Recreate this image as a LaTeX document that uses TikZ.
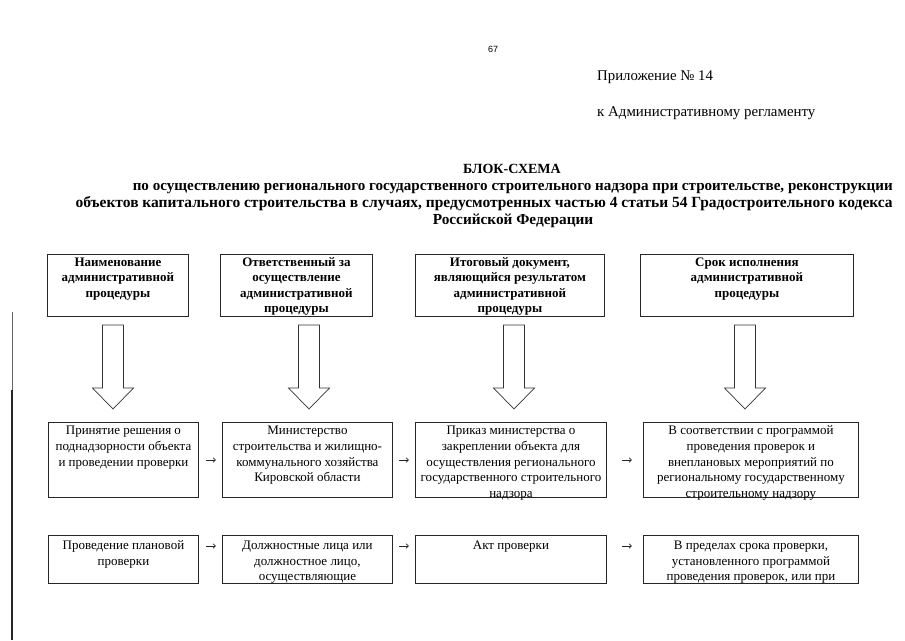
\documentclass[tikz,border=0pt]{standalone}
\usepackage{fontspec}
\setmainfont{Liberation Serif}
\newfontfamily\pgnumfont{Liberation Sans}
\usetikzlibrary{arrows.meta,calc}
\newcommand{\headfont}{\fontsize{13}{15.5}\selectfont\bfseries}
\newcommand{\cellfont}{\fontsize{13}{15.8}\selectfont}
\newcommand{\cellfontb}{\fontsize{13}{15.3}\selectfont}
\newcommand{\cell}[3]{\parbox[c][#2pt][t]{#1pt}{\centering #3}}
\tikzset{
  x=1pt, y=-1pt,
  boxnode/.style={draw=black!85, line width=0.9pt, inner sep=0pt, anchor=north west},
  blk/.style={draw=black!80, line width=0.7pt, fill=white, line join=miter},
  smallarrow/.style={draw=black!85, line width=0.7pt, -{Straight Barb[length=2.5pt,width=4.5pt]}},
  plain/.style={inner sep=0pt, anchor=base west},
  titlefont/.style={font=\fontsize{15.3}{17}\selectfont\bfseries, inner sep=0pt}
}
\begin{document}
\begin{tikzpicture}
\useasboundingbox (0,0) rectangle (905,640);
% page number and header
\node[inner sep=0pt, font=\pgnumfont\fontsize{9}{10}\selectfont] (pg) at (493,49) {67};
\node[plain, font=\fontsize{14.8}{17}\selectfont] (app) at (597,80) {Приложение № 14};
\node[plain, font=\fontsize{14.9}{17}\selectfont] (reg) at (597,116) {к Административному регламенту};
% title
\node[titlefont, font=\fontsize{14}{17}\selectfont\bfseries, anchor=base] (t0) at (512,173) {БЛОК-СХЕМА};
\node[titlefont, font=\fontsize{15.1}{17}\selectfont\bfseries, anchor=base east] (t1) at (893,190) {по осуществлению регионального государственного строительного надзора при строительстве, реконструкции};
\node[titlefont, font=\fontsize{15.5}{17}\selectfont\bfseries, anchor=base east] (t2) at (893,207) {объектов капитального строительства в случаях, предусмотренных частью 4 статьи 54 Градостроительного кодекса};
\node[titlefont, anchor=base] (t3) at (513,224) {Российской Федерации};
% row 1
\node[boxnode] (h1) at (47,254) {\cell{141}{62}{\headfont\rule{0pt}{12pt}Наименование\\административной\\процедуры}};
\node[boxnode] (h2) at (220,254) {\cell{152}{62}{\headfont\rule{0pt}{12pt}Ответственный за\\осуществление\\административной\\процедуры}};
\node[boxnode] (h3) at (415,254) {\cell{189}{62}{\headfont\rule{0pt}{12pt}Итоговый документ,\\являющийся результатом\\административной\\процедуры}};
\node[boxnode] (h4) at (640,254) {\cell{213}{62}{\headfont\rule{0pt}{12pt}Срок исполнения\\административной\\процедуры}};
% block arrows
\foreach \cx in {113,309,514,745}{
  \draw[blk] ({\cx-10.5},325) -- ({\cx+10.5},325) -- ({\cx+10.5},388) -- ({\cx+20.5},388)
     -- (\cx,409) -- ({\cx-20.5},388) -- ({\cx-10.5},388) -- cycle;
}
% row 2
\node[boxnode] (a1) at (48,422) {\cell{150}{75}{\cellfont\rule{0pt}{12pt}Принятие решения о\\поднадзорности объекта\\и проведении проверки}};
\node[boxnode] (a2) at (222,422) {\cell{170}{75}{\cellfont\rule{0pt}{12pt}Министерство\\строительства и жилищно-\\коммунального хозяйства\\Кировской области}};
\node[boxnode] (a3) at (415,422) {\cell{191}{75}{\cellfont\rule{0pt}{12pt}Приказ министерства  о\\закреплении объекта для\\осуществления регионального\\государственного строительного\\надзора}};
\node[boxnode] (a4) at (643,422) {\cell{215}{75}{\cellfont\rule{0pt}{12pt}В соответствии с программой\\проведения проверок и\\внеплановых мероприятий по\\региональному государственному\\строительному надзору}};
\draw[smallarrow, shorten <=7pt, shorten >=6pt] ($(a1.north east)+(0,38)$) -- ($(a2.north west)+(0,38)$);
\draw[smallarrow, shorten <=6pt, shorten >=6pt] ($(a2.north east)+(0,38)$) -- ($(a3.north west)+(0,38)$);
\draw[smallarrow, shorten <=15pt, shorten >=11pt] ($(a3.north east)+(0,38)$) -- ($(a4.north west)+(0,38)$);
% row 3
\node[boxnode] (b1) at (48,535) {\cell{150}{48}{\cellfontb\rule{0pt}{14.5pt}Проведение плановой\\проверки}};
\node[boxnode] (b2) at (222,535) {\cell{170}{48}{\cellfontb\rule{0pt}{14.5pt}Должностные лица или\\должностное лицо,\\осуществляющие}};
\node[boxnode] (b3) at (415,535) {\cell{191}{48}{\cellfontb\rule{0pt}{14.5pt}Акт проверки}};
\node[boxnode] (b4) at (643,535) {\cell{215}{48}{\cellfontb\rule{0pt}{14.5pt}В пределах срока проверки,\\установленного программой\\проведения проверок, или при}};
\draw[smallarrow, shorten <=7pt, shorten >=6pt] ($(b1.north east)+(0,11)$) -- ($(b2.north west)+(0,11)$);
\draw[smallarrow, shorten <=6pt, shorten >=6pt] ($(b2.north east)+(0,11)$) -- ($(b3.north west)+(0,11)$);
\draw[smallarrow, shorten <=15pt, shorten >=11pt] ($(b3.north east)+(0,11)$) -- ($(b4.north west)+(0,11)$);
% left margin line of the scan
\coordinate (lm0) at (12,312);
\coordinate (lm1) at (12,390);
\coordinate (lm2) at (12,640);
\draw[black!60, line width=0.6pt] (lm0) -- (lm1);
\draw[black!85, line width=1.4pt] (lm1) -- (lm2);
\end{tikzpicture}
\end{document}
